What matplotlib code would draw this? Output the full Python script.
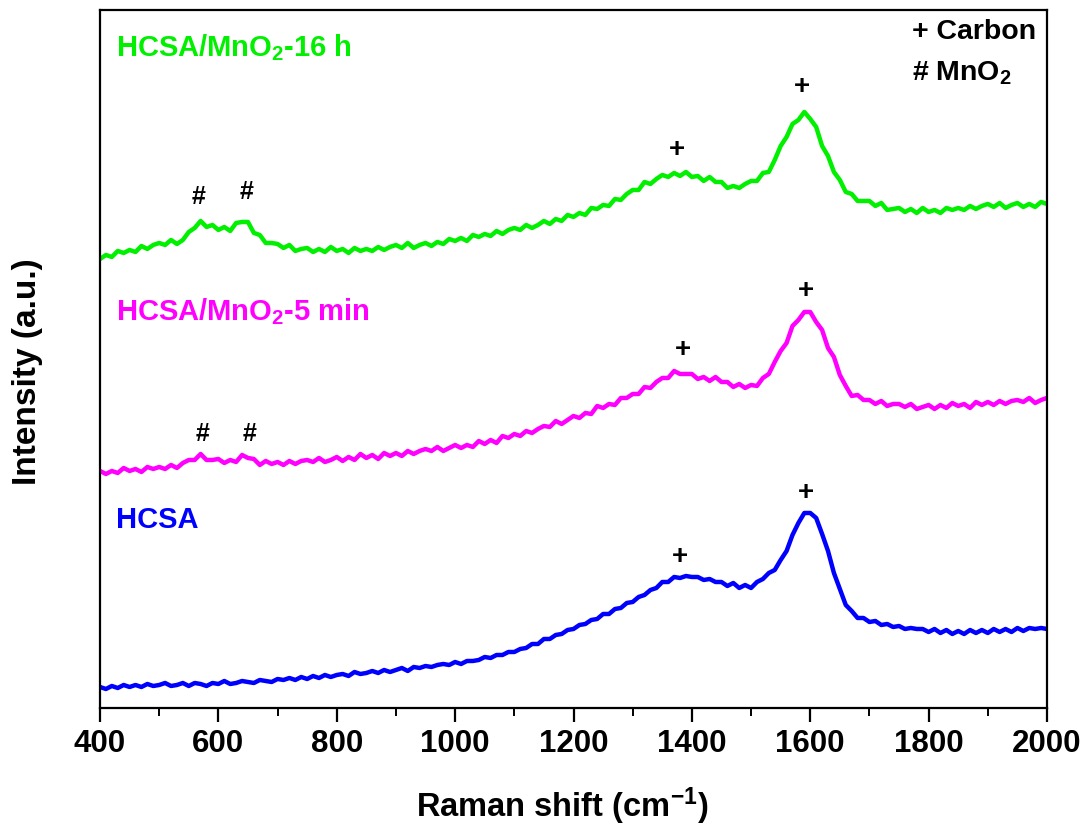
import numpy as np
import matplotlib
matplotlib.use("Agg")
import matplotlib.pyplot as plt
from matplotlib.ticker import MultipleLocator

# Raman shift sampling (cm^-1), 10 cm^-1 step from 400 to 2000
raman_shift = np.arange(400, 2001, 10)

# Offset-stacked intensities (a.u.)
hcsa = [
    21, 19, 22, 20, 23, 21, 23, 21, 24, 22,
    23, 25, 22, 23, 25, 22, 25, 24, 22, 25,
    24, 27, 24, 25, 27, 26, 25, 28, 27, 26,
    29, 28, 30, 28, 31, 29, 32, 30, 33, 31,
    33, 34, 32, 36, 34, 35, 37, 35, 38, 36,
    38, 40, 37, 41, 40, 42, 41, 43, 44, 43,
    46, 44, 47, 47, 48, 51, 50, 53, 53, 56,
    56, 59, 60, 64, 64, 69, 69, 73, 74, 78,
    79, 83, 84, 88, 89, 94, 94, 99, 100, 105,
    106, 111, 113, 118, 120, 126, 126, 131, 130, 132,
    131, 131, 128, 129, 126, 126, 122, 125, 120, 123,
    120, 126, 129, 135, 138, 148, 157, 173, 185, 195,
    195, 190, 174, 157, 135, 119, 103, 97, 90, 90,
    86, 87, 83, 84, 81, 82, 79, 80, 79, 79,
    76, 79, 75, 78, 74, 77, 74, 78, 75, 78,
    75, 79, 76, 79, 76, 80, 77, 80, 79, 80, 79,
]

hcsa_mno2_5min = [
    237, 234, 237, 235, 240, 237, 239, 236, 241, 239,
    241, 239, 243, 240, 245, 248, 248, 254, 248, 248,
    249, 245, 248, 246, 253, 250, 249, 243, 247, 244,
    246, 243, 247, 244, 247, 248, 246, 250, 246, 248,
    251, 247, 251, 248, 254, 250, 253, 249, 255, 252,
    255, 252, 257, 254, 257, 259, 257, 261, 257, 260,
    263, 260, 263, 261, 267, 264, 268, 265, 272, 270,
    274, 272, 277, 275, 279, 282, 281, 287, 284, 288,
    292, 290, 295, 294, 302, 300, 304, 303, 310, 310,
    314, 314, 321, 320, 326, 330, 330, 337, 334, 334,
    334, 329, 331, 327, 331, 326, 326, 321, 324, 320,
    323, 322, 330, 334, 346, 357, 365, 382, 388, 396,
    396, 386, 378, 360, 351, 333, 322, 312, 313, 308,
    308, 304, 307, 302, 304, 304, 301, 304, 299, 301,
    303, 299, 303, 300, 305, 302, 304, 300, 306, 303,
    306, 303, 307, 304, 307, 308, 306, 310, 305, 308, 310,
]

hcsa_mno2_16h = [
    449, 453, 451, 457, 455, 458, 456, 462, 459, 463,
    465, 463, 468, 464, 468, 476, 480, 487, 481, 483,
    478, 481, 477, 485, 486, 486, 475, 473, 465, 465,
    464, 460, 463, 457, 459, 460, 456, 459, 456, 461,
    457, 459, 455, 460, 457, 459, 457, 461, 458, 461,
    463, 460, 465, 460, 463, 465, 462, 466, 464, 469,
    467, 470, 467, 473, 471, 474, 472, 477, 474, 478,
    480, 478, 483, 480, 483, 487, 484, 489, 487, 493,
    491, 495, 493, 500, 499, 503, 502, 509, 508, 514,
    518, 518, 526, 524, 529, 533, 531, 535, 532, 536,
    531, 532, 527, 531, 526, 526, 520, 522, 520, 524,
    527, 527, 535, 536, 548, 562, 571, 584, 588, 596,
    589, 581, 562, 552, 536, 528, 516, 514, 507, 507,
    507, 502, 505, 498, 499, 500, 496, 499, 495, 500,
    496, 498, 495, 500, 498, 500, 498, 502, 499, 502,
    504, 501, 505, 500, 503, 505, 501, 504, 501, 506, 504,
]

series_names = ["HCSA", "HCSA/MnO$_\\mathbf{2}$-5 min", "HCSA/MnO$_\\mathbf{2}$-16 h"]
series_colors = ["#0000ff", "#ff00ff", "#00f000"]

plt.rcParams["font.family"] = ["Liberation Sans", "DejaVu Sans"]
plt.rcParams["font.weight"] = "bold"
plt.rcParams["mathtext.fontset"] = "custom"
plt.rcParams["mathtext.rm"] = "Liberation Sans:bold"
plt.rcParams["mathtext.bf"] = "Liberation Sans:bold"
plt.rcParams["mathtext.default"] = "bf"

fig = plt.figure(figsize=(10.87, 8.30), dpi=100)
ax = fig.add_axes([0.092, 0.147, 0.8712, 0.841])

for ys, col in zip([hcsa, hcsa_mno2_5min, hcsa_mno2_16h], series_colors):
    ax.plot(raman_shift, ys, color=col, lw=3.2, solid_joinstyle="round")

ax.set_xlim(400, 2000)
ax.set_ylim(0, 698)
ax.xaxis.set_major_locator(MultipleLocator(200))
ax.xaxis.set_minor_locator(MultipleLocator(100))
ax.set_yticks([])
ax.tick_params(axis="x", which="major", direction="out", length=10, width=1.6,
               labelsize=22.5, pad=5)
ax.tick_params(axis="x", which="minor", direction="out", length=6, width=1.4)
for lab in ax.get_xticklabels():
    lab.set_fontweight("bold")
for sp in ax.spines.values():
    sp.set_linewidth(1.6)

# Axis titles
fig.text(562 / 1087, 1 - 806 / 830, "Raman shift (cm$^{\\mathbf{-1}}$)",
         fontsize=23.5, fontweight="bold", ha="center", va="center")
fig.text(28 / 1087, 1 - 372 / 830, "Intensity (a.u.)", rotation=90,
         fontsize=24, fontweight="bold", ha="center", va="center")

# Sample labels
label_pos = [(427, 188), (427, 396), (427, 660)]
for (lx, ly), name, col in zip(label_pos, series_names, series_colors):
    ax.text(lx, ly, name, color=col, fontsize=21, fontweight="bold", va="center", ha="left")

# Legend of band symbols
ax.text(1772, 676, "+ Carbon", fontsize=20.5, fontweight="bold", ha="left", va="center")
ax.text(1772, 635, "# MnO$_\\mathbf{2}$", fontsize=20.5, fontweight="bold", ha="left", va="center")

# Band markers above peaks
plus_marks = [(1380, 151), (1593, 215), (1385, 358), (1593, 417), (1375, 558), (1586, 621)]
hash_marks = [(574, 274), (653, 274), (567, 511), (647, 516)]
for mx, my in plus_marks:
    ax.text(mx, my, "+", fontsize=20, fontweight="bold", ha="center", va="center")
for mx, my in hash_marks:
    ax.text(mx, my, "#", fontsize=18, fontweight="bold", ha="center", va="center")

fig.savefig("out.png", dpi=100)
